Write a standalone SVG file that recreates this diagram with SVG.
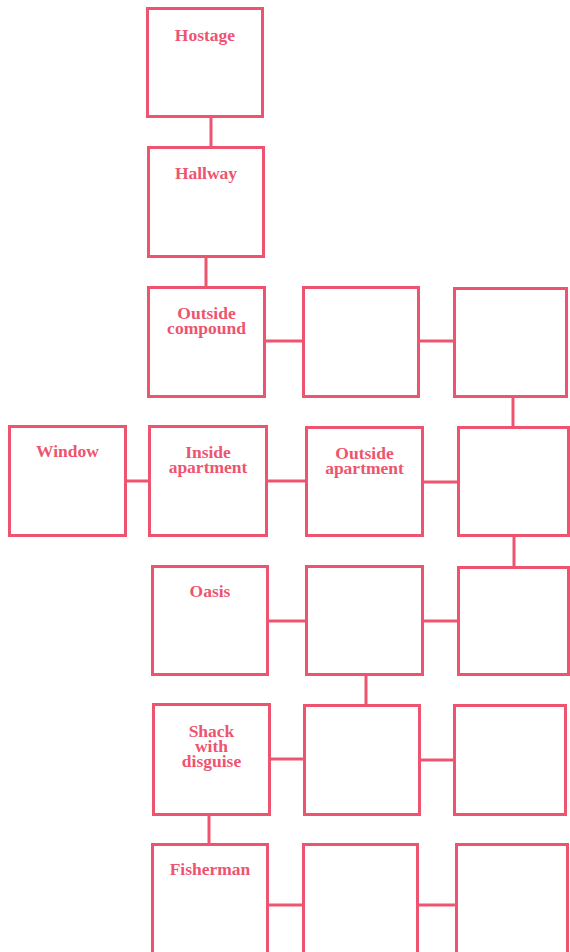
<svg xmlns="http://www.w3.org/2000/svg" width="570" height="952" viewBox="0 0 570 952">
<style>
.b{fill:#ffffff;stroke:#ee5470;stroke-width:3}
.c{stroke:#ee5470;stroke-width:3;fill:none}
.t{font-family:"Liberation Serif","Times New Roman",serif;font-weight:bold;font-size:17.5px;fill:#ee5470;text-anchor:middle}
</style>
<rect width="570" height="952" fill="#ffffff"/>
<g id="connectors" class="c">
<line x1="211" y1="117" x2="211" y2="147"/>
<line x1="206" y1="257" x2="206" y2="287"/>
<line x1="265" y1="341" x2="303" y2="341"/>
<line x1="419" y1="341" x2="454" y2="341"/>
<line x1="513" y1="397" x2="513" y2="427"/>
<line x1="126" y1="481" x2="149" y2="481"/>
<line x1="267" y1="481" x2="306" y2="481"/>
<line x1="423" y1="482" x2="458" y2="482"/>
<line x1="514" y1="536" x2="514" y2="567"/>
<line x1="268" y1="621" x2="306" y2="621"/>
<line x1="423" y1="621" x2="458" y2="621"/>
<line x1="366" y1="675" x2="366" y2="705"/>
<line x1="270" y1="759" x2="304" y2="759"/>
<line x1="420" y1="760" x2="454" y2="760"/>
<line x1="209" y1="815" x2="209" y2="844"/>
<line x1="268" y1="905" x2="303" y2="905"/>
<line x1="418" y1="905" x2="456" y2="905"/>
</g>
<g id="hostage"><rect class="b" x="147.5" y="8.5" width="115" height="108"/><text class="t" x="205" y="41">Hostage</text></g>
<g id="hallway"><rect class="b" x="148.5" y="147.5" width="115" height="109"/><text class="t" x="206" y="179">Hallway</text></g>
<g id="outside-compound"><rect class="b" x="148.5" y="287.5" width="116" height="109"/><text class="t" x="206.5" y="319">Outside</text><text class="t" x="206.5" y="334">compound</text></g>
<g id="r3c2"><rect class="b" x="303.5" y="287.5" width="115" height="109"/></g>
<g id="r3c3"><rect class="b" x="454.5" y="288.5" width="112" height="108"/></g>
<g id="window"><rect class="b" x="9.5" y="426.5" width="116" height="109"/><text class="t" x="67.5" y="457">Window</text></g>
<g id="inside-apartment"><rect class="b" x="149.5" y="426.5" width="117" height="109"/><text class="t" x="208" y="458">Inside</text><text class="t" x="208" y="473">apartment</text></g>
<g id="outside-apartment"><rect class="b" x="306.5" y="427.5" width="116" height="108"/><text class="t" x="364.5" y="459">Outside</text><text class="t" x="364.5" y="474">apartment</text></g>
<g id="r4c3"><rect class="b" x="458.5" y="427.5" width="110" height="108"/></g>
<g id="oasis"><rect class="b" x="152.5" y="566.5" width="115" height="108"/><text class="t" x="210" y="597">Oasis</text></g>
<g id="r5c2"><rect class="b" x="306.5" y="566.5" width="116" height="108"/></g>
<g id="r5c3"><rect class="b" x="458.5" y="567.5" width="110" height="107"/></g>
<g id="shack"><rect class="b" x="153.5" y="704.5" width="116" height="110"/><text class="t" x="211.5" y="737">Shack</text><text class="t" x="211.5" y="752">with</text><text class="t" x="211.5" y="767">disguise</text></g>
<g id="r6c2"><rect class="b" x="304.5" y="705.5" width="115" height="109"/></g>
<g id="r6c3"><rect class="b" x="454.5" y="705.5" width="111" height="109"/></g>
<g id="fisherman"><rect class="b" x="152.5" y="844.5" width="115" height="115"/><text class="t" x="210" y="875">Fisherman</text></g>
<g id="r7c2"><rect class="b" x="303.5" y="844.5" width="114" height="115"/></g>
<g id="r7c3"><rect class="b" x="456.5" y="844.5" width="111" height="115"/></g>
</svg>
